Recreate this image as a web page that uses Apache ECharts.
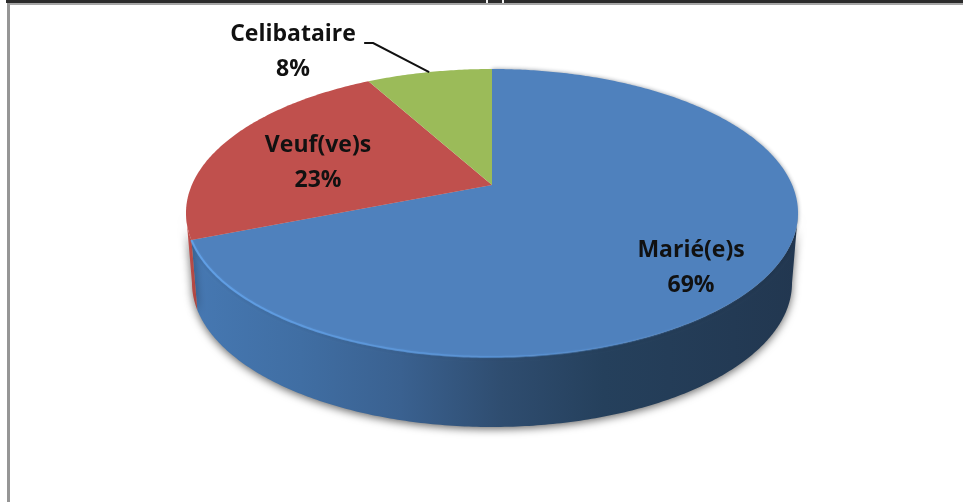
<!DOCTYPE html>
<html><head><meta charset="utf-8">
<style>html,body{margin:0;padding:0;background:#fff}#c{width:963px;height:502px}</style>
<script src="https://cdn.jsdelivr.net/npm/echarts@6/dist/echarts.min.js"></script>
</head><body><div id="c"></div>
<script>
const categories = ['Marié(e)s', 'Veuf(ve)s', 'Celibataire'];
const shares = [69, 23, 8];
const topColors = ['#4f81bd', '#c0504d', '#9bbb59'];

const total = shares.reduce((a, b) => a + b, 0);
const disc = {cx: 492, cy: 213, rx: 306, ry: 144, apex: 0.194, depth: 70, rxBottom: 300};
const labelAt = [[691, 268], [318, 163], [293, 52]];
const font = 'bold 23px "Open Sans", "Noto Sans", sans-serif';

function unit(theta) {
  const u = Math.sin(theta), v = Math.cos(theta), b = disc.apex, d = 1 + b * v;
  return [u * Math.sqrt(1 - b * b) / d, (v + b) / d];
}
function rim(theta, bottom) {
  const p = unit(theta);
  return bottom
    ? [disc.cx + disc.rxBottom * p[0], disc.cy + disc.depth - disc.ry * p[1]]
    : [disc.cx + disc.rx * p[0], disc.cy - disc.ry * p[1]];
}
function arc(a0, a1, bottom) {
  const pts = [], n = Math.max(2, Math.ceil(Math.abs(a1 - a0) * 90));
  for (let i = 0; i <= n; i++) pts.push(rim(a0 + (a1 - a0) * i / n, bottom));
  return pts;
}
function bounds(i) {
  let s = 0;
  for (let k = 0; k < i; k++) s += shares[k];
  return [s / total * 2 * Math.PI, (s + shares[i]) / total * 2 * Math.PI];
}
const silhouetteR = Math.acos(-disc.apex);
const silhouetteL = 2 * Math.PI - silhouetteR;
const grad = (stops) => new echarts.graphic.LinearGradient(0, 0, 1, 0, stops.map(s => ({offset: s[0], color: s[1]})));
const sideFill = [
  grad([[0, '#4678b2'], [0.18, '#406ea3'], [0.345, '#3a6190'], [0.51, '#2f4d70'], [0.68, '#25405c'], [1, '#223750']]),
  grad([[0, '#c8534f'], [1, '#a8433f']])
];
const rimGlow = grad([[0, 'rgba(98,162,234,0.9)'], [0.35, 'rgba(92,152,220,0.8)'], [0.7, 'rgba(90,150,220,0.3)'], [1, 'rgba(80,130,190,0)']]);

function renderSide(params, api) {
  const i = params.dataIndex;
  const b = bounds(i);
  const a0 = Math.max(b[0], silhouetteR), a1 = Math.min(b[1], silhouetteL);
  if (a1 <= a0 || api.value(1) <= 0) return {type: 'group', children: []};
  const pts = arc(a0, a1, false).concat(arc(a1, a0, true));
  return {
    type: 'polygon', shape: {points: pts},
    style: {fill: sideFill[i], shadowBlur: 9, shadowColor: 'rgba(0,0,0,0.6)', shadowOffsetY: 2, shadowOffsetX: 0}
  };
}
function renderTop(params, api) {
  const i = params.dataIndex;
  const b = bounds(i);
  const style = {fill: topColors[i]};
  if (i === 0) {
    style.shadowBlur = 4;
    style.shadowColor = 'rgba(15,30,50,0.45)';
  }
  const children = [{
    type: 'polygon',
    shape: {points: [[disc.cx, disc.cy - disc.ry * disc.apex]].concat(arc(b[0], b[1], false))},
    style
  }];
  if (i === 0) {
    children.push({
      type: 'polyline',
      shape: {points: arc(silhouetteR, b[1], false)},
      style: {fill: null, stroke: rimGlow, lineWidth: 2, shadowBlur: 2, shadowColor: 'rgba(98,162,234,0.5)'}
    });
  }
  return {type: 'group', children};
}
function renderLabel(params, api) {
  const i = params.dataIndex;
  const b = bounds(i);
  const children = [{
    type: 'text',
    style: {
      text: categories[i] + '\n' + api.value(1) + '%',
      x: labelAt[i][0], y: labelAt[i][1], align: 'center', verticalAlign: 'middle',
      font, lineHeight: 35, fill: '#111'
    }
  }];
  if (i === 2) {
    const p = rim((b[0] + b[1]) / 2, false);
    children.push({
      type: 'polyline',
      shape: {points: [p, [p[0] - 56, p[1] - 29], [p[0] - 65, p[1] - 29]]},
      style: {fill: null, stroke: '#111', lineWidth: 2}
    });
  }
  return {type: 'group', children};
}
const rows = categories.map((c, i) => [c, shares[i]]);
const rect = (x, y, width, height, fill) => ({type: 'rect', shape: {x, y, width, height}, style: {fill}, silent: true});

const chart = echarts.init(document.getElementById('c'), null, {renderer: 'canvas'});
chart.setOption({
  animation: false,
  backgroundColor: '#ffffff',
  tooltip: {show: false},
  graphic: [
    rect(6, 0, 957, 3, '#2b2b2b'),
    rect(486, 0, 2, 3, '#f4f4f4'),
    rect(502, 0, 2, 3, '#f4f4f4'),
    rect(7, 3, 956, 2, '#a6a6a6'),
    rect(7, 3, 3, 499, '#969696')
  ],
  series: [
    {type: 'custom', coordinateSystem: 'none', data: rows, renderItem: renderSide, z: 1, silent: true},
    {type: 'custom', coordinateSystem: 'none', data: rows, renderItem: renderTop, z: 2, silent: true},
    {type: 'custom', coordinateSystem: 'none', data: rows, renderItem: renderLabel, z: 3, silent: true}
  ]
});
</script></body></html>
